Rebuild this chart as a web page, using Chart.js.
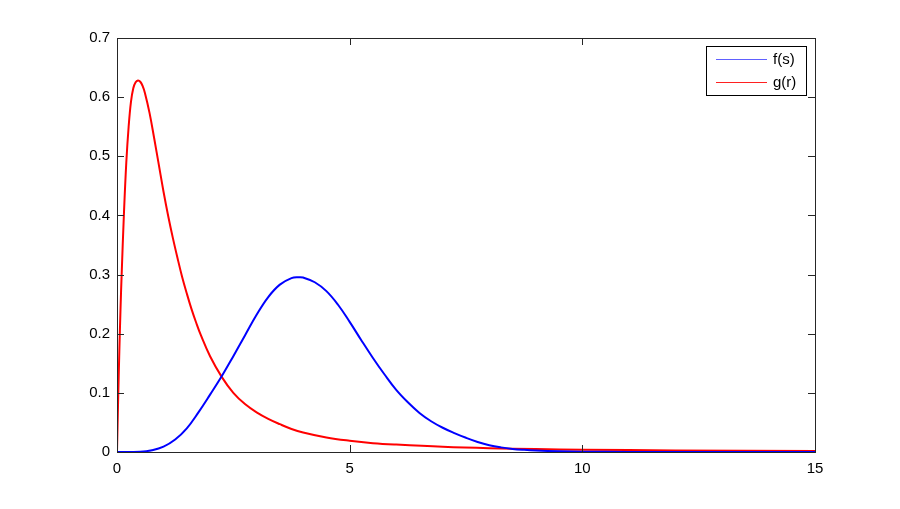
<!DOCTYPE html>
<html>
<head>
<meta charset="utf-8">
<script src="https://cdn.jsdelivr.net/npm/chart.js@4/dist/chart.umd.min.js"></script>
<style>
    html, body { margin: 0; padding: 0; background: #fff; }
    #wrap { width: 900px; height: 509px; position: relative; }
</style>
</head>
<body>
<div id="wrap"><canvas id="plot"></canvas></div>
<script>
// values
const fsX = [0, 0.5, 0.75, 1.0, 1.25, 1.5, 1.75, 2.0, 2.25, 2.5, 2.75, 3.0, 3.25, 3.5, 3.75, 3.9, 4.0, 4.25, 4.5, 4.75, 5.0, 5.25, 5.5, 5.75, 6.0, 6.25, 6.5, 6.75, 7.0, 7.25, 7.5, 7.75, 8.0, 8.25, 8.5, 8.75, 9.0, 9.5, 10, 11, 12, 15];
const fsY = [0, 0.0005, 0.003, 0.009, 0.021, 0.040, 0.067, 0.097, 0.128, 0.162, 0.197, 0.232, 0.262, 0.283, 0.294, 0.2955, 0.295, 0.287, 0.272, 0.249, 0.220, 0.189, 0.159, 0.131, 0.105, 0.084, 0.066, 0.052, 0.041, 0.032, 0.024, 0.017, 0.0115, 0.0078, 0.0052, 0.0036, 0.0025, 0.0012, 0.0005, 0.0001, 0, 0];

const grX = [0, 0.025, 0.05, 0.075, 0.1, 0.15, 0.2, 0.25, 0.3, 0.35, 0.4, 0.45, 0.5, 0.55, 0.6, 0.7, 0.8, 0.9, 1.0, 1.1, 1.2, 1.3, 1.4, 1.5, 1.6, 1.7, 1.8, 2.0, 2.25, 2.5, 2.75, 3.0, 3.25, 3.5, 3.75, 4.0, 4.5, 5.0, 5.5, 6.0, 7.0, 8.0, 9.0, 10, 12, 15];
const grY = [0, 0.09, 0.17, 0.24, 0.30, 0.405, 0.49, 0.55, 0.592, 0.615, 0.625, 0.628, 0.626, 0.619, 0.607, 0.573, 0.530, 0.485, 0.440, 0.399, 0.362, 0.328, 0.296, 0.268, 0.242, 0.219, 0.198, 0.162, 0.127, 0.100, 0.081, 0.067, 0.056, 0.047, 0.039, 0.033, 0.0245, 0.019, 0.015, 0.0125, 0.0088, 0.0064, 0.005, 0.004, 0.0027, 0.0016];

const xTicks = [0, 5, 10, 15];
const yTicks = [0, 0.1, 0.2, 0.3, 0.4, 0.5, 0.6, 0.7];
const seriesNames = ['f(s)', 'g(r)'];
const seriesColors = ['#0000ff', '#ff0000'];
const legendColors = ['#6060ff', '#ff2020'];

const AXIS_COLOR = '#262626';
const FAMILY = '"Liberation Sans", Arial, sans-serif';

function toPoints(xs, ys) {
    return xs.map((x, i) => ({ x: x, y: ys[i] }));
}

// box around the axes with inward tick marks on all four sides (matlab look)
const boxPlugin = {
    id: 'boxTicks',
    afterDraw(chart) {
        const ctx = chart.ctx;
        const a = chart.chartArea;
        const xs = chart.scales.x;
        const ys = chart.scales.y;
        const len = 7;
        ctx.save();
        ctx.strokeStyle = AXIS_COLOR;
        ctx.lineWidth = 1;
        ctx.beginPath();
        xTicks.forEach(v => {
            const px = Math.round(xs.getPixelForValue(v)) + 0.5;
            ctx.moveTo(px, a.bottom); ctx.lineTo(px, a.bottom - len);
            ctx.moveTo(px, a.top); ctx.lineTo(px, a.top + len);
        });
        yTicks.forEach(v => {
            const py = Math.round(ys.getPixelForValue(v)) + 0.5;
            ctx.moveTo(a.left, py); ctx.lineTo(a.left + len, py);
            ctx.moveTo(a.right, py); ctx.lineTo(a.right - len, py);
        });
        ctx.stroke();
        ctx.strokeRect(Math.round(a.left) + 0.5, Math.round(a.top) + 0.5,
            Math.round(a.right - a.left), Math.round(a.bottom - a.top));

        // legend box top right
        const lx = Math.round(a.right - 109), ly = Math.round(a.top + 8), lw = 100, lh = 49;
        ctx.fillStyle = '#fff';
        ctx.fillRect(lx, ly, lw, lh);
        ctx.strokeStyle = '#000';
        ctx.strokeRect(lx + 0.5, ly + 0.5, lw, lh);
        ctx.font = '15px ' + FAMILY;
        ctx.textBaseline = 'middle';
        seriesNames.forEach((name, i) => {
            const yy = Math.round(ly + 13 + i * 22.5) + 0.5;
            ctx.beginPath();
            ctx.lineWidth = 1.2;
            ctx.strokeStyle = legendColors[i];
            ctx.moveTo(lx + 10, yy);
            ctx.lineTo(lx + 61, yy);
            ctx.stroke();
            ctx.fillStyle = '#000';
            ctx.fillText(name, lx + 67, yy);
        });
        ctx.restore();
    }
};

window.onload = () => {
    const ctx = document.getElementById('plot').getContext('2d');
    new Chart(ctx, {
        type: 'line',
        data: {
            datasets: [
                {
                    label: seriesNames[0],
                    data: toPoints(fsX, fsY),
                    borderColor: seriesColors[0],
                    borderWidth: 2,
                    pointRadius: 0,
                    tension: 0.4,
                    fill: false
                },
                {
                    label: seriesNames[1],
                    data: toPoints(grX, grY),
                    borderColor: seriesColors[1],
                    borderWidth: 2,
                    pointRadius: 0,
                    tension: 0.4,
                    fill: false
                }
            ]
        },
        options: {
            responsive: true,
            maintainAspectRatio: false,
            animation: false,
            layout: { padding: { left: 0, top: 38, right: 85, bottom: 25 } },
            scales: {
                x: {
                    type: 'linear',
                    min: 0, max: 15,
                    grid: { display: false, drawTicks: false },
                    border: { display: false },
                    afterBuildTicks: s => { s.ticks = xTicks.map(v => ({ value: v })); },
                    afterFit: s => { s.height = 32; },
                    ticks: {
                        padding: 8,
                        color: '#000',
                        font: { family: FAMILY, size: 15 },
                        maxRotation: 0
                    }
                },
                y: {
                    min: 0, max: 0.7,
                    grid: { display: false, drawTicks: false },
                    border: { display: false },
                    afterBuildTicks: s => { s.ticks = yTicks.map(v => ({ value: v })); },
                    afterFit: s => { s.width = 117; },
                    ticks: {
                        padding: 7,
                        color: '#000',
                        font: { family: FAMILY, size: 15 },
                        callback: v => String(+v.toFixed(1))
                    }
                }
            },
            plugins: {
                legend: { display: false },
                tooltip: { enabled: false }
            }
        },
        plugins: [boxPlugin]
    });
};
</script>
</body>
</html>
